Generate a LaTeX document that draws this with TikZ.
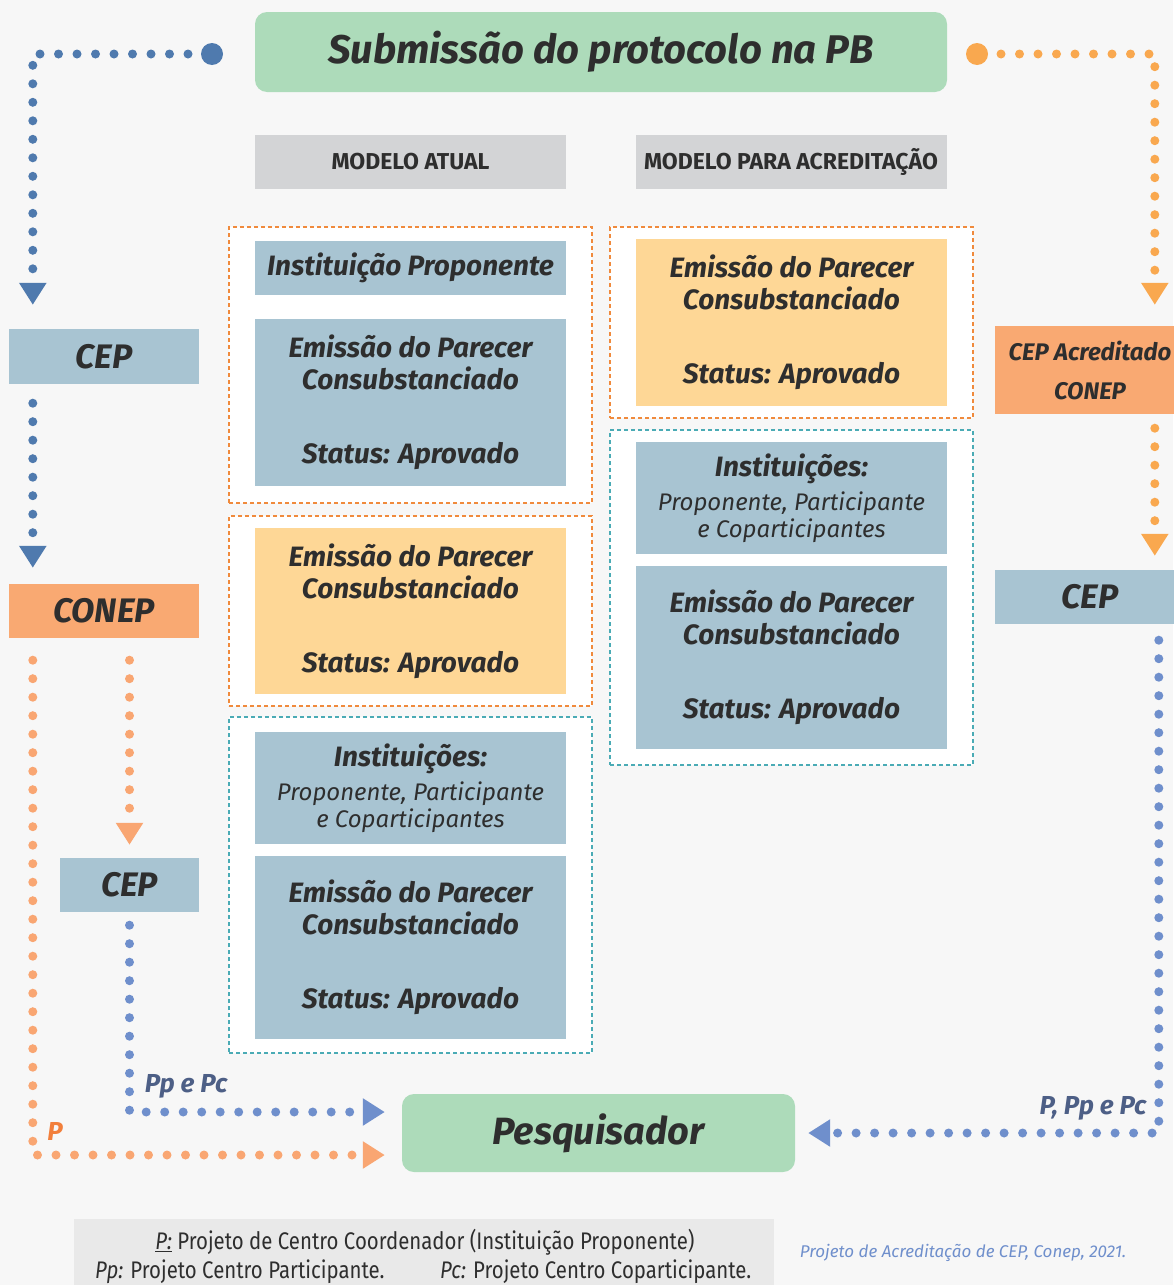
\documentclass[tikz,border=0pt]{standalone}
\usepackage{fontspec}
\setmainfont{Fira Sans}
\newfontfamily\legfont{Fira Sans}[FakeStretch=0.85]
\usetikzlibrary{arrows.meta}

\definecolor{bgc}{HTML}{F7F7F7}
\definecolor{titlegreen}{HTML}{ADDBBA}
\definecolor{modgray}{HTML}{D3D4D6}
\definecolor{boxblue}{HTML}{A8C4D2}
\definecolor{boxyellow}{HTML}{FED796}
\definecolor{boxorange}{HTML}{F9A972}
\definecolor{frameorange}{HTML}{F08A3C}
\definecolor{frameteal}{HTML}{4AABB5}
\definecolor{dotdark}{HTML}{4F7AAE}
\definecolor{dotlight}{HTML}{6F8FCC}
\definecolor{dotorange}{HTML}{F9A84F}
\definecolor{dotsalmon}{HTML}{F9A672}
\definecolor{ink}{HTML}{2E2E2E}
\definecolor{labelblue}{HTML}{4D5F86}
\definecolor{labelorange}{HTML}{F27F3B}
\definecolor{leggray}{HTML}{E9E9E9}

\newcommand{\smallfnt}{\fontsize{24}{27}\selectfont\mdseries}
\newcommand{\parecertxt}{Emissão do Parecer\\Consubstanciado\\[42pt]Status: Aprovado}
\newcommand{\insttxt}{Instituições:\\[2pt]\smallfnt Proponente, Participante\\[-5pt]\smallfnt e Coparticipantes}

\begin{document}
\begin{tikzpicture}[x=1pt,y=-1pt,
    every node/.style={text=ink},
    titlebox/.style={fill=titlegreen, rounded corners=12pt, inner sep=0pt,
      font=\fontsize{40}{44}\selectfont\bfseries\itshape},
    modbox/.style={fill=modgray, minimum width=311pt, minimum height=54pt, inner sep=0pt,
      font=\fontsize{23}{26}\selectfont\bfseries},
    cbox/.style={rectangle, inner sep=0pt, minimum width=311pt, align=center,
      font=\fontsize{28}{32}\selectfont\bfseries\itshape},
    bluebox/.style={cbox, fill=boxblue},
    yelbox/.style={cbox, fill=boxyellow},
    orgframe/.style={draw=frameorange, fill=white, line width=1.8pt,
      dash pattern=on 4pt off 3pt, inner sep=0pt, minimum width=363pt},
    tealframe/.style={orgframe, draw=frameteal},
    sidebox/.style={inner sep=0pt, minimum height=54pt, align=center,
      font=\fontsize{34}{36}\selectfont\bfseries\itshape},
    bigdot/.style={circle, inner sep=0pt, minimum size=22pt},
    dots/.style={line width=9pt, line cap=round, dash pattern=on 0pt off 18.5pt,
      -{Triangle[width=26pt,length=22pt]}},
    darkdots/.style={dots, draw=dotdark},
    lightdots/.style={dots, draw=dotlight},
    orangedots/.style={dots, draw=dotorange},
    salmondots/.style={dots, draw=dotsalmon},
    flowlabel/.style={font=\fontsize{26}{28}\selectfont\bfseries\itshape, inner sep=0pt},
    legtxt/.style={font=\legfont\fontsize{24}{26}\selectfont, inner sep=0pt}
  ]
  \useasboundingbox[fill=bgc] (0,0) rectangle (1173,1285);

  % header
  \node[titlebox, minimum width=692pt, minimum height=80pt] (title) at (601,52) {Submissão do protocolo na PB};
  \node[modbox] (modA) at (410.5,162) {MODELO ATUAL};
  \node[modbox] (modB) at (791,162) {MODELO PARA ACREDITAÇÃO};

  % frames
  \node[orgframe, minimum height=276pt] (frA) at (410.5,365) {};
  \node[orgframe, minimum height=190pt] (frB) at (410.5,611) {};
  \node[tealframe, minimum height=336pt] (frC) at (410.5,885) {};
  \node[orgframe, minimum height=191pt] (frD) at (791.5,322.5) {};
  \node[tealframe, minimum height=335pt] (frE) at (791.5,597.5) {};

  % left column
  \node[bluebox, minimum height=54pt] (propA) at (410.5,268) {Instituição Proponente};
  \node[bluebox, minimum height=167pt] (parA) at (410.5,402.5) {\parecertxt};
  \node[yelbox, minimum height=166pt] (parB) at (410.5,611) {\parecertxt};
  \node[bluebox, minimum height=112pt] (instC) at (410.5,788) {\insttxt};
  \node[bluebox, minimum height=183pt] (parC) at (410.5,947.5) {\parecertxt};

  % right column
  \node[yelbox, minimum height=167pt] (parD) at (791.5,322.5) {\parecertxt};
  \node[bluebox, minimum height=112pt] (instE) at (791.5,498) {\insttxt};
  \node[bluebox, minimum height=183pt] (parE) at (791.5,657.5) {\parecertxt};

  % side nodes
  \node[sidebox, fill=boxblue, minimum width=190pt, minimum height=55pt] (cepA) at (104,356.5) {CEP};
  \node[sidebox, fill=boxorange, minimum width=190pt] (conep) at (104,611) {CONEP};
  \node[sidebox, fill=boxblue, minimum width=139pt] (cepB) at (129.5,885) {CEP};
  \node[sidebox, fill=boxorange, minimum width=190pt, minimum height=88pt,
    font=\fontsize{24}{39}\selectfont\bfseries\itshape] (cepAcr) at (1090,370) {CEP Acreditado\\CONEP};
  \node[sidebox, fill=boxblue, minimum width=190pt] (cepC) at (1090,597) {CEP};
  \node[titlebox, minimum width=393pt, minimum height=78pt, font=\fontsize{38}{40}\selectfont\bfseries\itshape] (pesq) at (598.5,1133) {Pesquisador};

  \node[bigdot, fill=dotdark] (dotL) at (212,54) {};
  \node[bigdot, fill=dotorange] (dotR) at (977,54) {};

  % flows
  \draw[darkdots, shorten <=24pt, shorten >=24pt] (dotL.center) -| ([xshift=24pt]cepA.north west);
  \draw[darkdots, shorten <=19pt, shorten >=16pt] ([xshift=24pt]cepA.south west) -- ([xshift=24pt]conep.north west);
  \draw[salmondots, shorten <=22pt, shorten >=17pt] ([xshift=24pt]conep.south west) |- ([yshift=-22pt]pesq.west);
  \draw[salmondots, shorten <=22pt, shorten >=13pt] (cepB.north |- conep.south) -- (cepB.north);
  \draw[lightdots, shorten <=13pt, shorten >=17pt] (cepB.south) |- ([yshift=21pt]pesq.west);
  \draw[orangedots, shorten <=24pt, shorten >=21pt] (dotR.center) -| ([xshift=160pt]cepAcr.north west);
  \draw[orangedots, shorten <=14pt, shorten >=14pt] ([xshift=160pt]cepAcr.south west) -- ([xshift=160pt]cepC.north west);
  \draw[lightdots, shorten <=16pt, shorten >=13pt] ([xshift=164pt]cepC.south west) |- (pesq.east);

  \node[flowlabel, text=labelblue] (lblPpPc) at (186,1086) {Pp e Pc};
  \node[flowlabel, text=labelorange] (lblP) at (55,1131) {P};
  \node[flowlabel, text=labelblue] (lblAll) at (1093,1108) {P, Pp e Pc};

  % legend
  \node[fill=leggray, minimum width=700pt, minimum height=80pt, anchor=north west, inner sep=0pt] (legend) at (74,1219) {};
  \node[legtxt] (leg1) at (425,1242) {\underline{\textit{P:}} Projeto de Centro Coordenador (Instituição Proponente)};
  \node[legtxt, anchor=west] (leg2) at (95,1272) {\textit{Pp:} Projeto Centro Participante.};
  \node[legtxt, anchor=west] (leg3) at (440,1272) {\textit{Pc:} Projeto Centro Coparticipante.};
  \node[font=\fontsize{17}{19}\selectfont\itshape, text=dotlight, inner sep=0pt] (source) at (963,1253) {Projeto de Acreditação de CEP, Conep, 2021.};
\end{tikzpicture}
\end{document}
